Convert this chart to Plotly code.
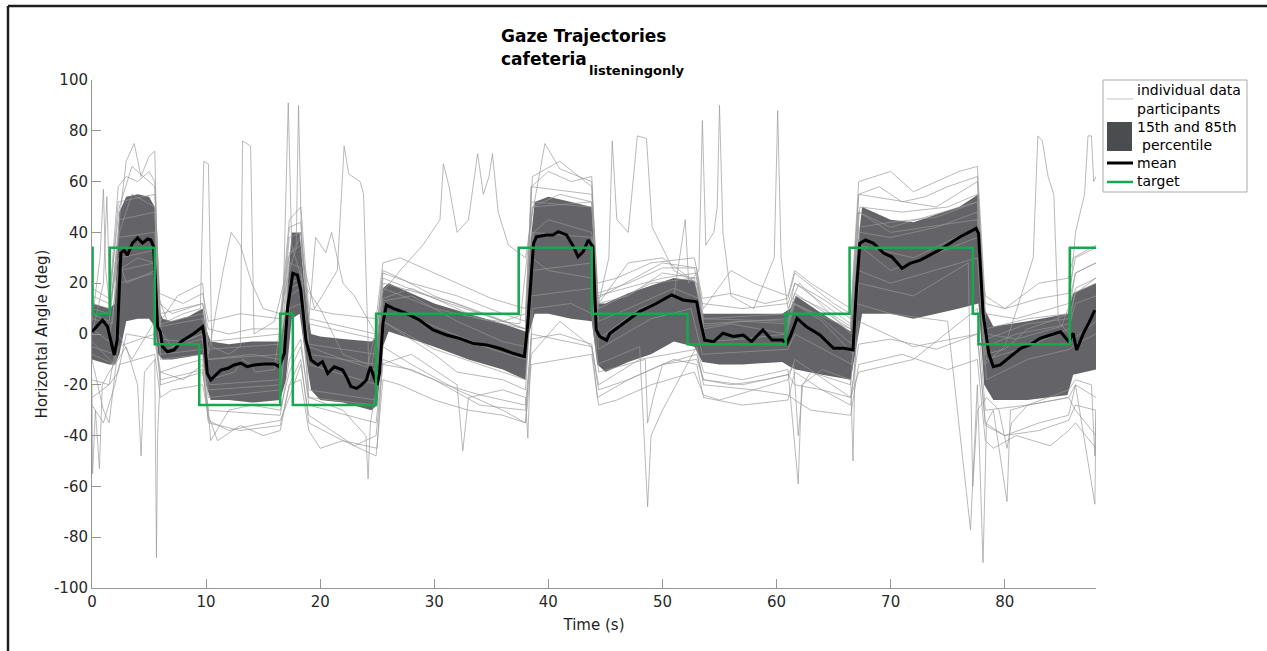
import plotly.graph_objects as go

# ---------------- data ----------------
target_t = [0, 0.05, 1.55, 5.5, 9.4, 16.5, 17.6, 24.9, 37.4, 43.8, 52.2, 60.8, 66.4, 77.2, 77.7, 85.7, 88]
target_v = [34, 8, 34, -4, -28, 8, -28, 8, 34, 8, -4, 8, 34, 8, -4, 34, 34]

mean_t = [0, 0.92, 1.36, 1.95, 2.2, 2.53, 2.82, 3.1, 3.55, 3.99, 4.43, 4.87, 5.16, 5.4, 5.6, 5.75, 5.98,
          6.18, 6.62, 7.2, 7.8, 8.38, 8.96, 9.7, 9.84, 10.1, 10.4, 10.86, 11.3, 11.9, 12.47, 13.05, 13.6,
          14.2, 15.1, 16.0, 16.4, 16.86, 17.15, 17.6, 18.0, 18.3, 18.75, 19.2, 19.78, 20.2, 20.66, 21.24,
          21.97, 22.3, 22.7, 23.2, 23.6, 24.05, 24.4, 24.6, 24.98, 25.2, 25.5, 25.8, 26.4, 27.56, 28.7,
          29.9, 31.07, 32.2, 33.4, 34.6, 35.7, 36.9, 37.9, 38.2, 38.7, 38.96, 39.84, 40.4, 40.86, 41.6,
          42.2, 42.6, 43.05, 43.5, 43.9, 44.2, 44.5, 45.1, 45.4, 46.6, 48.0, 49.5, 50.8, 51.8, 53.0, 53.3,
          53.7, 54.5, 55.3, 56.2, 57.1, 57.8, 58.8, 59.6, 60.5, 60.9, 61.2, 61.8, 62.6, 63.8, 65.0, 65.9,
          66.7, 67.0, 67.3, 67.8, 68.5, 69.4, 70.1, 71.0, 71.7, 72.6, 73.5, 74.3, 75.2, 76.1, 76.96, 77.5,
          77.7, 78.1, 78.6, 79.0, 79.6, 80.5, 81.4, 82.2, 83.1, 84.0, 84.9, 85.6, 86.0, 86.3, 86.9, 87.35, 87.9]
mean_v = [0.9, 5.5, 2.9, -8.3, -2.4, 31.9, 33, 31, 35.8, 37.8, 35.8, 37.4, 37, 34.4, 17.3, 2.9, 0.9,
          -5, -7, -6.3, -3, -1.3, 0.3, 2.9, -1, -15.5, -18.1, -16.1, -14.2, -13.5, -12.2, -11.5, -12.9,
          -12.2, -11.8, -11.8, -12.9, -7.6, 10.7, 23.9, 23.2, 17.3, -2.4, -10.2, -12.2, -10.9, -15.5, -12.9,
          -14.2, -16.8, -20.7, -21.4, -20.1, -18.1, -12.9, -15.5, -20.1, -15.5, 4.2, 11.4, 10.1, 8.1, 5.5,
          1.6, -0.4, -1.7, -3.7, -4.3, -5.6, -7.6, -8.9, 4.2, 35.7, 38.3, 39, 39, 40.3, 39,
          34.4, 30.4, 32.4, 37, 34.4, 1.6, -1, -2.4, 0.3, 4.2, 8.8, 12.1, 15.4, 13.4, 12.7, 5.5,
          -2.4, -3, 0.3, -1, -0.4, -3, 1.6, -2.4, -2.4, -3.7, -1, 6.2, 2.9, -0.4, -5.6, -5.6,
          -6.3, 17.3, 35.7, 37, 35.7, 31.8, 30.4, 25.9, 27.8, 29.1, 31.1, 33.1, 35.7, 38.3, 40.3, 41.6,
          39.6, 8.1, -7.6, -12.9, -12.2, -8.9, -5.6, -4.3, -1.7, -0.4, 0.9, -3, 0.3, -6.3, 0.3, 4.2, 9.4]

band_t = [0, 1.5, 2.0, 2.4, 3.0, 4.0, 5.0, 5.5, 5.8, 6.2, 7.0, 8.5, 9.7, 10.0, 10.4, 12.0, 14.0, 16.5,
          17.0, 17.5, 18.2, 18.6, 19.2, 20.0, 22.0, 24.5, 25.0, 25.5, 26.0, 28.0, 30.0, 33.0, 36.0, 38.0,
          38.3, 38.8, 40.0, 42.0, 43.8, 44.3, 45.0, 47.0, 49.0, 51.0, 52.8, 53.5, 55.0, 57.0, 60.5, 61.2,
          61.7, 64.0, 66.5, 67.0, 67.5, 70.0, 72.0, 74.0, 76.0, 77.7, 78.2, 79.0, 82.0, 85.5, 86.0, 87.0, 88.0]
band_p85 = [12, 10, 12, 48, 54, 55, 54, 50, 10, 6, 5, 7, 10, 2, -3, -4, -3, -3,
            10, 40, 40, 20, 0, -1, -2, -3, -1, 18, 20, 16, 12, 8, 4, 1,
            30, 52, 54, 52, 50, 12, 12, 16, 19, 22, 21, 8, 8, 8, 8, 10,
            15, 8, 1, 30, 50, 45, 44, 47, 50, 55, 10, 3, 5, 8, 16, 18, 20]
band_p15 = [-10, -12, -12, -8, 5, 6, 6, 3, -8, -10, -10, -9, -8, -20, -26, -26, -27, -26,
            -18, 6, 8, -5, -22, -26, -27, -30, -28, -5, 1, -2, -5, -10, -14, -18,
            0, 8, 8, 6, 5, -12, -15, -11, -8, -3, -5, -11, -12, -12, -11, -13,
            -14, -16, -18, -5, 8, 8, 6, 8, 10, 12, -20, -26, -26, -24, -16, -15, -14]

p1_t = [0, 0.7, 1.0, 1.2, 1.6, 2.4, 3.0, 3.7, 4.3, 5.0, 5.5, 5.8, 6.6, 8.0, 9.5, 9.8, 10.2, 10.5, 12.0, 13.0,
        13.2, 13.9, 14.2, 16.0, 16.8, 17.2, 17.5, 18.5, 20.0, 22.0, 24.2, 25.5, 28.0, 31.0, 34.0, 37.5, 38.6,
        41.0, 43.8, 44.4, 47.0, 50.0, 53.0, 53.6, 57.0, 61.0, 61.7, 64.0, 66.5, 67.3, 71.0, 75.0, 77.6, 78.4,
        81.0, 85.0, 86.0, 88.0]
p1_v = [5, 30, 57, 25, 10, 45, 68, 75, 62, 70, 72, 15, 5, 8, 10, 68, 67, -5, -8, -5,
        76, 74, 0, 5, 20, 91, 35, 20, 10, -8, -12, 14, 18, 12, 6, 4, 50,
        55, 52, 12, 15, 24, 22, 3, 5, 4, 15, 10, 3, 50, 48, 50, 55, 0,
        -2, 3, 16, 20]
p2_t = [0, 1.0, 1.3, 1.6, 2.4, 3.5, 5.5, 5.9, 7, 9.6, 10.2, 12.5, 13.2, 13.9, 14.3, 16, 17.2, 17.9, 18.1, 18.4,
        19.5, 21.5, 22.1, 22.5, 23.5, 23.8, 24.3, 25.5, 28, 32, 36, 38, 38.7, 40, 43.8, 44.4, 47, 51, 53.2,
        53.8, 57, 60.8, 61.5, 64, 66.7, 67.3, 70, 74, 77.6, 78.4, 82, 85.6, 86.2, 88]
p2_v = [0, 20, 54, 8, 40, 55, 50, 2, -5, 0, -18, -15, -10, -12, -15, -14, 30, 35, 90, 30,
        10, 25, 74, 63, 60, 55, -18, 13, 15, 5, -3, -5, 40, 45, 40, 5, 10, 18, 14,
        -3, -2, 0, 12, 5, -8, 40, 38, 42, 48, -10, -5, 2, 18, 22]
p3_t = [0, 1.5, 2.3, 4, 5.5, 6, 8, 9.7, 10.2, 14, 16.5, 17.3, 18.3, 19, 22, 24.8, 25.4, 27, 29, 30.5,
        30.8, 31.3, 32, 33, 33.8, 34.3, 34.8, 35.1, 35.6, 36.5, 38, 38.5, 39.7, 41, 43.8, 44.3, 45.3, 45.6,
        46, 47, 47.8, 48.6, 49.1, 51, 53, 53.6, 56, 60.9, 61.6, 64, 66.6, 67.2, 70, 74, 77.6, 78.3, 81,
        85.7, 86.2, 88]
p3_v = [2, -3, 25, 30, 28, -2, -3, 0, -10, -8, -10, 18, 20, -5, -10, -14, 16, 25, 35, 45,
        67, 58, 40, 45, 71, 55, 62, 71, 48, 35, 30, 45, 75, 65, 60, 10, 30, 76,
        45, 40, 78, 77, 42, 25, 20, 2, 4, 0, 12, 6, -4, 42, 44, 46, 52, -5, 0,
        4, 12, 15]
p4_t = [0, 2, 2.5, 5.5, 6.2, 9.7, 10.3, 16.5, 17.2, 18.4, 19, 25, 25.5, 30, 35, 38, 38.6, 43.8, 44.4, 48,
        51, 52, 52.3, 53.2, 53.5, 53.8, 54.5, 54.8, 55.0, 55.3, 56, 58, 59.8, 60.1, 60.4, 61, 62, 66.5,
        67.2, 72, 77.6, 78.2, 80, 82.5, 82.9, 83.3, 83.8, 84.3, 84.7, 86, 88]
p4_v = [-5, -8, 30, 33, -6, -2, -20, -18, 20, 22, -12, -20, 12, 3, -6, -10, 40, 38, -2, 10,
        15, 45, 20, 25, 84, 35, 40, 50, 90, 40, 15, 10, 30, 88, 30, 10, 20, 0,
        35, 30, 42, -12, -5, 30, 78, 76, 62, 55, 5, -2, 5]
p5_t = [0, 1.5, 2.3, 5.5, 6, 9.7, 10.2, 16.5, 17.3, 18.3, 19, 25, 25.5, 32, 38, 38.6, 43.8, 44.3, 50, 53,
        53.6, 61, 61.5, 66.5, 67.2, 70, 77.6, 78.3, 80, 82, 84, 85.6, 86.2, 87, 87.3, 87.6, 87.8, 88]
p5_v = [8, 5, 38, 40, 3, 6, -10, -8, 28, 26, -8, -12, 20, 12, 2, 50, 52, 15, 22, 24,
        4, 6, 12, 2, 48, 40, 45, -8, -6, 2, 5, 8, 40, 55, 78, 78, 60, 62]
p6_t = [0, 0.05, 0.3, 0.65, 0.9, 1.5, 2.3, 3, 4, 4.3, 4.6, 5.5, 5.6, 5.65, 5.75, 6, 8, 9.7, 10.2, 10.4,
        12, 14, 16.5, 17.3, 18.3, 19, 22, 24, 24.2, 24.4, 25.3, 28, 32, 32.5, 33, 36, 38, 38.2, 38.6, 42,
        43.8, 44.3, 48, 48.7, 49, 50, 53, 53.6, 57, 61, 61.9, 62.2, 64, 66.5, 66.7, 67, 70, 75, 77.0, 77.6,
        78.1, 78.4, 79, 80.2, 80.5, 82, 85.6, 86.2, 87.9, 88]
p6_v = [-20, -55, -30, -53, -20, -15, -10, -5, -20, -48, -15, -10, -60, -88, -40, -15, -12, -10, -30, -42,
        -30, -28, -30, -15, -5, -25, -30, -40, -57, -35, -12, -8, -20, -46, -25, -22, -25, -41, 10, 12,
        8, -12, -5, -68, -40, -30, -5, -15, -18, -14, -59, -20, -14, -18, -50, 12, 8, 5, -77, -20,
        -90, -35, -30, -66, -30, -28, -25, -20, -67, -30]
p7_t = [0, 1, 1.5, 2.3, 5.5, 6, 8, 9.7, 10.2, 13, 16.5, 17.3, 18.3, 19, 22, 25, 25.5, 28, 32, 36,
        38, 38.5, 43.8, 44.3, 47, 51, 53, 53.6, 57, 61, 61.6, 64, 66.5, 67.2, 72, 77.6, 78.3, 80, 83, 85.6,
        86.2, 88]
p7_v = [-10, -30, -35, -5, 0, -15, -18, -12, -35, -38, -36, -20, -10, -35, -42, -45, -5, -12, -22, -30,
        -35, 0, -5, -25, -18, -10, -12, -25, -28, -26, -15, -22, -28, 5, -5, 0, -35, -40, -35, -32,
        -20, -25]
p8_t = [0, 2, 2.4, 5.5, 6, 9.8, 10.2, 16.6, 17.3, 18.3, 19, 24.9, 25.5, 30, 38, 38.5, 43.9, 44.4, 49, 52.5,
        53.5, 61, 61.6, 66.6, 67.2, 70, 77.6, 78.4, 82, 85.7, 86.2, 88]
p8_v = [-3, -12, 25, 28, -8, -6, -22, -20, 15, 18, -22, -26, 5, -6, -18, 25, 28, -6, 6, 10,
        -8, -6, 0, -12, 25, 20, 30, -18, -10, -6, -4, 0]
p9_t = [0, 1.8, 2.4, 5.5, 6, 9.7, 10.2, 16.5, 17.3, 18.4, 19, 24.9, 25.5, 30, 38, 38.5, 43.8, 44.4, 49, 52.8,
        53.5, 61, 61.6, 66.5, 67.2, 70, 77.6, 78.4, 82, 85.6, 86.2, 88]
p9_v = [6, 4, 45, 48, 4, 8, -6, -4, 32, 35, -4, -8, 18, 10, 2, 52, 50, 10, 20, 22,
        6, 5, 16, 2, 48, 42, 52, -2, 4, 6, 16, 22]
p10_t = [0, 1.5, 2.3, 3, 5.5, 6, 7.5, 9.7, 10.2, 11.5, 12.2, 13, 14, 15, 16.5, 17.3, 18.3, 19, 19.6, 20.5,
         21, 22, 23, 24.9, 25.5, 27, 30, 33, 36, 38, 38.5, 40, 43.8, 44.4, 47, 50, 53, 53.6, 56, 58,
         61, 61.6, 63, 66.5, 67.2, 70, 73, 77.6, 78.3, 80, 83, 85.6, 86, 88]
p10_v = [12, 10, 30, 20, 25, 5, 15, 20, -8, 25, 40, 35, 20, 10, 8, 25, 40, 5, 38, 32,
         40, 20, 15, 0, 25, 22, 15, 10, 5, 8, 30, 25, 22, 12, 28, 30, 20, 10, 25, 20,
         15, 25, 20, 10, 35, 25, 30, 38, 15, 10, 20, 22, 30, 35]
p11_t = [0, 1.5, 2.3, 3.5, 5.5, 6, 9.7, 10.2, 16.5, 17.3, 18.3, 19, 24.9, 25.5, 30, 34, 38, 38.5, 41, 43.8,
         44.4, 48, 53, 53.6, 58, 61, 61.6, 66.5, 67.2, 72, 77.6, 78.3, 82, 85.6, 86.2, 88]
p11_v = [-25, -20, 0, -10, 5, -20, -15, -30, -32, -10, -2, -28, -35, -10, -18, -28, -30, -8, 5, -5,
         -20, -10, -6, -20, -22, -18, -10, -25, -15, -10, 10, -30, -28, -25, -30, -40]
p12_t = [0, 1.5, 2.3, 5.5, 6, 9.7, 10.2, 16.5, 17.3, 18.3, 19, 24.9, 25.5, 30, 38, 38.5, 43.8, 44.3, 50, 53,
         53.6, 61, 61.6, 66.5, 67.2, 74, 77.6, 78.3, 82, 85.6, 86.2, 88]
p12_v = [10, 8, 52, 55, 8, 12, -3, 0, 38, 40, 4, -2, 22, 14, 2, 58, 55, 14, 28, 26,
         6, 8, 20, 4, 55, 50, 60, 2, 6, 8, 24, 28]
p13_t = [0, 2, 2.4, 5.5, 6, 9.7, 10.2, 16.5, 17.3, 18.3, 19, 24.9, 25.5, 30, 32, 36, 38, 38.5, 43.8, 44.4,
         48.5, 48.7, 49.2, 50, 53, 53.6, 57, 61, 61.5, 61.9, 62.3, 63, 66.5, 67.2, 72, 76.8, 77.2, 77.6, 78.4,
         79.5, 80.2, 80.6, 82, 85.6, 86.2, 87.6, 87.9, 88]
p13_v = [-8, -12, 20, 24, -10, -8, -25, -22, 10, 12, -25, -28, 5, -8, -15, -18, -22, 15, 18, -15,
         -10, -35, -25, -12, -10, -18, -20, -16, -12, -40, -20, -15, -20, 20, 15, 28, -60, -30, -25,
         -30, -45, -35, -28, -22, -18, -20, -48, -30]
p14_t = [0, 1.5, 2.3, 3, 4, 5, 5.5, 5.9, 7, 9.7, 10.2, 12, 14, 16.5, 17.3, 18.3, 19, 22, 24.9, 25.5,
         28, 32, 36, 38, 38.5, 40, 42, 43.8, 44.3, 47, 50, 52.8, 53.5, 57, 61, 61.6, 64, 66.5, 67.2, 69,
         71, 73, 75, 77.6, 78.3, 81, 84, 85.6, 86.2, 88]
p14_v = [15, 12, 58, 62, 60, 64, 60, 12, 8, 12, 2, 0, 2, 2, 42, 44, 6, 3, 0, 24,
         20, 15, 8, 5, 58, 64, 60, 62, 16, 20, 26, 26, 12, 10, 12, 20, 14, 6, 55, 58,
         52, 54, 58, 62, 8, 6, 10, 12, 24, 28]
p15_t = [0, 1.5, 2.4, 3.5, 5.5, 5.9, 8, 9.7, 10.2, 13, 16.5, 17.3, 18.3, 19, 21, 24.9, 25.5, 27, 31, 35,
         38, 38.6, 41, 43.8, 44.3, 46, 49, 52.8, 53.5, 56, 59, 61, 61.6, 65, 66.5, 67.2, 70, 72, 76, 77.6,
         78.3, 80, 83, 85.6, 86.2, 88]
p15_v = [18, 14, 50, 66, 58, 16, 12, 16, 5, 8, 6, 45, 50, 10, 8, 6, 28, 30, 22, 14,
         10, 62, 68, 58, 20, 22, 28, 30, 14, 16, 12, 14, 24, 12, 8, 60, 64, 56, 64, 66,
         12, 10, 14, 16, 30, 34]
p16_t = [0, 1.5, 2.3, 3, 5.5, 6, 8, 9.7, 10.2, 12, 14, 16.5, 17.3, 18.3, 19, 21, 23, 24.9, 25.5, 28,
         31, 34, 38, 38.5, 41, 43.8, 44.4, 47, 50, 53, 53.6, 56, 59, 61, 61.6, 64, 66.5, 67.2, 70, 74,
         77.6, 78.3, 80, 83, 85.6, 86.2, 88]
p16_v = [-18, -20, -15, 0, -2, -18, -16, -14, -34, -38, -36, -34, -25, -12, -32, -38, -44, -40, -12, -14,
         -20, -24, -28, -2, 0, -4, -22, -18, -12, -8, -18, -20, -18, -16, -20, -22, -25, -4, -2, -6,
         0, -36, -40, -38, -34, -28, -30]
p17_t = [0, 1, 2, 2.4, 5.5, 6, 7, 9.7, 10.2, 11, 13, 15, 16.5, 17.3, 18.3, 19, 20, 22, 24.9, 25.5,
         27, 30, 33, 36, 38, 38.5, 43.8, 44.4, 46, 49, 52.8, 53.6, 55, 58, 61, 61.6, 63, 66.5, 67.2, 71,
         75, 77.6, 78.3, 79, 81, 84, 85.6, 86.2, 88]
p17_v = [-28, -35, -20, -12, -8, -25, -22, -20, -32, -42, -36, -40, -38, -20, -18, -38, -45, -42, -48, -18,
         -20, -26, -30, -32, -35, -12, -8, -28, -26, -20, -15, -24, -26, -22, -24, -26, -30, -32, -12, -8,
         -14, -10, -42, -45, -40, -44, -38, -35, -45]

participants = [(p1_t, p1_v), (p2_t, p2_v), (p3_t, p3_v), (p4_t, p4_v), (p5_t, p5_v), (p6_t, p6_v),
                (p7_t, p7_v), (p8_t, p8_v), (p9_t, p9_v), (p10_t, p10_v), (p11_t, p11_v), (p12_t, p12_v),
                (p13_t, p13_v), (p14_t, p14_v), (p15_t, p15_v), (p16_t, p16_v), (p17_t, p17_v)]

x_ticks = [0, 10, 20, 30, 40, 50, 60, 70, 80]
y_ticks = [-100, -80, -60, -40, -20, 0, 20, 40, 60, 80, 100]
y_ticktext = ["-100", "-80", "-60", "-40", "-20", "0", "20", "40", "60", "80", "100"]

legend_labels = ["individual data", "participants", "15th and 85th", "percentile", "mean", "target"]

# ---------------- figure ----------------
FONT = "DejaVu Sans"
W, H = 1267, 651
ML, MR, MT, MB = 92, 171, 80, 63
PW, PH = W - ML - MR, H - MT - MB


def px(x):
    return (x - ML) / PW


def py(y):
    return (H - MB - y) / PH


fig = go.Figure()

fig.add_trace(go.Scatter(
    x=band_t + band_t[::-1], y=band_p85 + band_p15[::-1],
    fill="toself", mode="lines", line=dict(width=0, color="rgba(75,76,80,1)"),
    fillcolor="rgba(78,79,83,0.88)", hoverinfo="skip"))

for pt, pv in participants:
    fig.add_trace(go.Scatter(
        x=pt, y=pv, mode="lines", line=dict(color="rgba(150,150,150,0.75)", width=0.9), hoverinfo="skip"))

fig.add_trace(go.Scatter(x=mean_t, y=mean_v, mode="lines", line=dict(color="black", width=3)))
fig.add_trace(go.Scatter(x=target_t, y=target_v, mode="lines",
                         line=dict(color="rgb(22,168,78)", width=2.5, shape="hv")))

axis_col = "rgb(150,150,150)"
green = "rgb(22,168,78)"

shapes = [
    # outer frame (left & top)
    dict(type="line", xref="paper", yref="paper", x0=px(8), x1=px(8), y0=py(6), y1=py(660),
         line=dict(color="rgb(30,30,30)", width=2.5)),
    dict(type="line", xref="paper", yref="paper", x0=px(8), x1=px(1275), y0=py(6), y1=py(6),
         line=dict(color="rgb(30,30,30)", width=2.5)),
    # legend box
    dict(type="rect", xref="paper", yref="paper", x0=px(1103), x1=px(1247), y0=py(192), y1=py(80),
         line=dict(color="rgb(170,170,170)", width=1), fillcolor="white"),
    dict(type="line", xref="paper", yref="paper", x0=px(1107), x1=px(1133), y0=py(99), y1=py(99),
         line=dict(color="rgb(195,195,195)", width=1)),
    dict(type="rect", xref="paper", yref="paper", x0=px(1107), x1=px(1132), y0=py(151), y1=py(122),
         line=dict(width=0), fillcolor="rgb(75,76,80)"),
    dict(type="line", xref="paper", yref="paper", x0=px(1107), x1=px(1133), y0=py(163), y1=py(163),
         line=dict(color="black", width=3)),
    dict(type="line", xref="paper", yref="paper", x0=px(1107), x1=px(1133), y0=py(182), y1=py(182),
         line=dict(color=green, width=2.5)),
]

legend_y = [90, 109, 127, 145, 163, 181]
legend_x = [1135, 1135, 1135, 1140, 1135, 1135]
annotations = [
    dict(text="<b>Gaze Trajectories</b>", x=px(499), y=py(36), xref="paper", yref="paper",
         xanchor="left", yanchor="middle", showarrow=False, font=dict(size=17, color="black")),
    dict(text="<b>cafeteria</b>", x=px(499), y=py(59), xref="paper", yref="paper",
         xanchor="left", yanchor="middle", showarrow=False, font=dict(size=17, color="black")),
    dict(text="<b>listeningonly</b>", x=px(587), y=py(70), xref="paper", yref="paper",
         xanchor="left", yanchor="middle", showarrow=False, font=dict(size=13, color="black")),
]
for lab, lx, ly in zip(legend_labels, legend_x, legend_y):
    annotations.append(dict(text=lab, x=px(lx), y=py(ly), xref="paper", yref="paper",
                            xanchor="left", yanchor="middle", showarrow=False,
                            font=dict(size=14, color="black")))

fig.update_layout(
    width=W, height=H,
    margin=dict(l=ML, r=MR, t=MT, b=MB),
    paper_bgcolor="white", plot_bgcolor="white",
    font=dict(family=FONT, size=15, color="rgb(40,40,40)"),
    showlegend=False,
    xaxis=dict(range=[0, 88], tickvals=x_ticks, ticks="inside", ticklen=9, tickcolor=axis_col,
               showline=True, linecolor=axis_col, linewidth=1, showgrid=False, zeroline=False,
               tickfont=dict(size=15, color="rgb(40,40,40)"),
               title=dict(text="Time (s)", font=dict(size=15, color="rgb(30,30,30)"), standoff=9)),
    yaxis=dict(range=[-100, 100], tickvals=y_ticks, ticktext=y_ticktext, ticks="inside", ticklen=9,
               tickcolor=axis_col, showline=True, linecolor=axis_col, linewidth=1, showgrid=False,
               zeroline=False, tickfont=dict(size=15, color="rgb(40,40,40)"),
               title=dict(text="Horizontal Angle (deg)", font=dict(size=15, color="rgb(30,30,30)"), standoff=2)),
    annotations=annotations,
    shapes=shapes,
)

fig.write_html("out.html", config={"displayModeBar": False},
               post_script="document.body.style.margin='0px';")
